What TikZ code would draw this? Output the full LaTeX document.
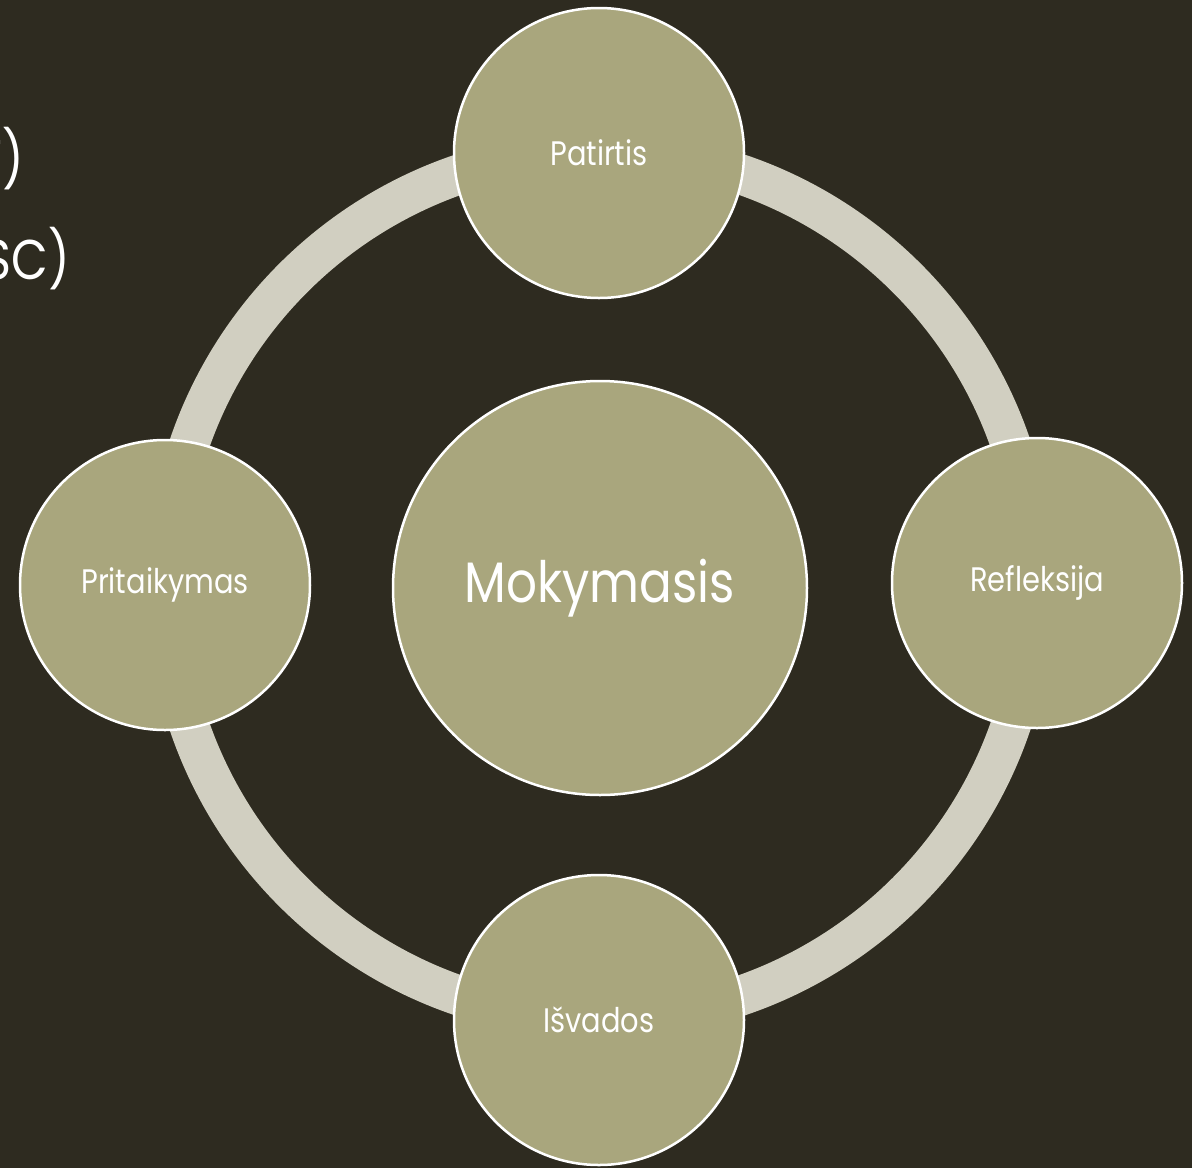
\documentclass[tikz,border=0pt]{standalone}
\usepackage{fontspec}
\setmainfont[FakeStretch=0.85]{Poppins}
\definecolor{bgc}{HTML}{2E2B20}
\definecolor{ringc}{HTML}{D1CFC1}
\definecolor{circc}{HTML}{A9A67D}
\begin{document}
\begin{tikzpicture}[x=1pt,y=-1pt,
  bubble/.style={circle, fill=circc, draw=white, line width=2.5pt, minimum size=290pt, inner sep=0pt, text=white, font=\fontsize{34}{40}\selectfont},
  hub/.style={circle, fill=circc, draw=white, line width=2.5pt, minimum size=414pt, inner sep=0pt, text=white, font=\fontsize{57}{64}\selectfont},
  cut/.style={anchor=base east, inner sep=0pt, outer sep=0pt, text=white, font=\fontsize{56}{64}\selectfont}]
\fill[bgc] (0,0) rectangle (1192,1168);
\useasboundingbox (0,0) rectangle (1192,1168);
\node[circle, draw=ringc, line width=40pt, minimum size=868pt, inner sep=0pt] (ring) at (600,585) {};
\node[cut] (t1) at (24,179) {T)};
\node[cut] (t2) at (70,279) {SC)};
\node[hub] (hub) at (600,588) {Mokymasis};
\node[bubble] (pat) at (599,153) {Patirtis};
\node[bubble] (ref) at (1037,583) {Refleksija};
\node[bubble] (isv) at (599,1020) {Išvados};
\node[bubble] (pri) at (165,585) {Pritaikymas};
\end{tikzpicture}
\end{document}
